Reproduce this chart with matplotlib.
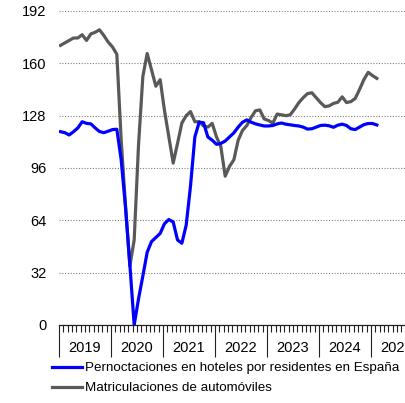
import numpy as np
import matplotlib
matplotlib.use('Agg')
import matplotlib.pyplot as plt

plt.rcParams['font.family'] = ['Liberation Sans', 'DejaVu Sans']

# monthly series, Jan 2019 - Feb 2025
hoteles = [118.2, 117.6, 116.2, 118.2, 120.5, 124.3, 123.3, 123.0, 120.5, 118.3, 117.6, 118.5,
           119.5, 119.7, 101.0, 72.0, 37.0, 0.0, 16.0, 30.0, 44.5, 51.0, 53.5, 56.0,
           62.0, 64.5, 63.0, 52.0, 50.0, 61.0, 85.0, 115.0, 124.0, 123.7, 115.0, 113.0,
           110.5, 111.0, 112.5, 115.0, 117.5, 121.0, 124.0, 125.4, 124.0, 123.0, 122.3, 121.7,
           121.7, 122.0, 123.0, 123.5, 122.8, 122.4, 122.0, 121.7, 121.0, 119.8, 120.0, 121.0,
           122.0, 122.2, 121.8, 120.9, 122.2, 122.8, 122.0, 120.0, 119.5, 121.0, 122.5, 123.2,
           123.2, 122.3]
matriculaciones = [171.0, 172.5, 174.0, 175.5, 175.5, 177.5, 174.0, 178.0, 179.0, 180.5, 177.0, 173.0,
                   170.0, 165.5, 113.0, 73.0, 36.0, 52.0, 110.0, 152.0, 166.0, 156.0, 146.0, 150.0,
                   131.0, 115.0, 99.0, 111.0, 123.5, 128.0, 130.5, 124.3, 124.3, 121.7, 121.0, 123.3,
                   115.0, 109.0, 91.0, 97.0, 101.0, 113.0, 119.0, 122.0, 127.0, 131.0, 131.5, 126.0,
                   125.0, 123.5, 129.0, 128.5, 128.0, 128.5, 132.0, 136.0, 139.0, 141.5, 142.0, 139.0,
                   136.0, 133.5, 134.0, 135.5, 136.2, 139.5, 136.0, 136.6, 138.5, 144.0, 150.0, 154.5,
                   152.5, 150.8]
years = ['2019', '2020', '2021', '2022', '2023', '2024', '2025']
labels = ['Pernoctaciones en hoteles por residentes en España', 'Matriculaciones de automóviles']

x = np.arange(len(hoteles)) + 0.35

fig = plt.figure(figsize=(4.05, 4.03), dpi=100)
ax = fig.add_axes([59 / 405, 78 / 403, 364 / 405, 314 / 403])

ax.plot(x, hoteles, color='#0000ff', lw=2.3, label=labels[0], zorder=3)
ax.plot(x, matriculaciones, color='#595959', lw=2.3, label=labels[1], zorder=2)

ax.set_xlim(0, 84)
ax.set_ylim(0, 192)
ax.set_yticks(np.arange(0, 193, 32))
ax.yaxis.grid(True, linestyle=(0, (1, 1.5)), color='#808080', lw=0.8)
ax.set_axisbelow(True)

ax.set_xticks(np.arange(0, 85, 12))
ax.set_xticklabels([])
ax.set_xticks(np.arange(0, 85, 1), minor=True)
ax.tick_params(axis='x', which='major', length=23, width=0.8, color='#222222')
ax.tick_params(axis='x', which='minor', length=5, width=0.8, color='#222222')
ax.tick_params(axis='y', length=0, pad=9, labelsize=10.5)

# year labels centred between the year ticks
for i, yr in enumerate(years):
    ax.text(6 + 12 * i, -0.073, yr, transform=ax.get_xaxis_transform(),
            ha='center', va='center', fontsize=10.5)

for s in ['top', 'right', 'left']:
    ax.spines[s].set_visible(False)
ax.spines['bottom'].set_color('#222222')
ax.spines['bottom'].set_linewidth(0.9)

fig.legend(loc='upper left', bbox_to_anchor=(52 / 405, 1 - 362 / 403), frameon=False,
           fontsize=9.6, handlelength=2.25, handletextpad=0.2, labelspacing=0.58,
           borderpad=0, borderaxespad=0)

fig.savefig('out.png', dpi=100)
